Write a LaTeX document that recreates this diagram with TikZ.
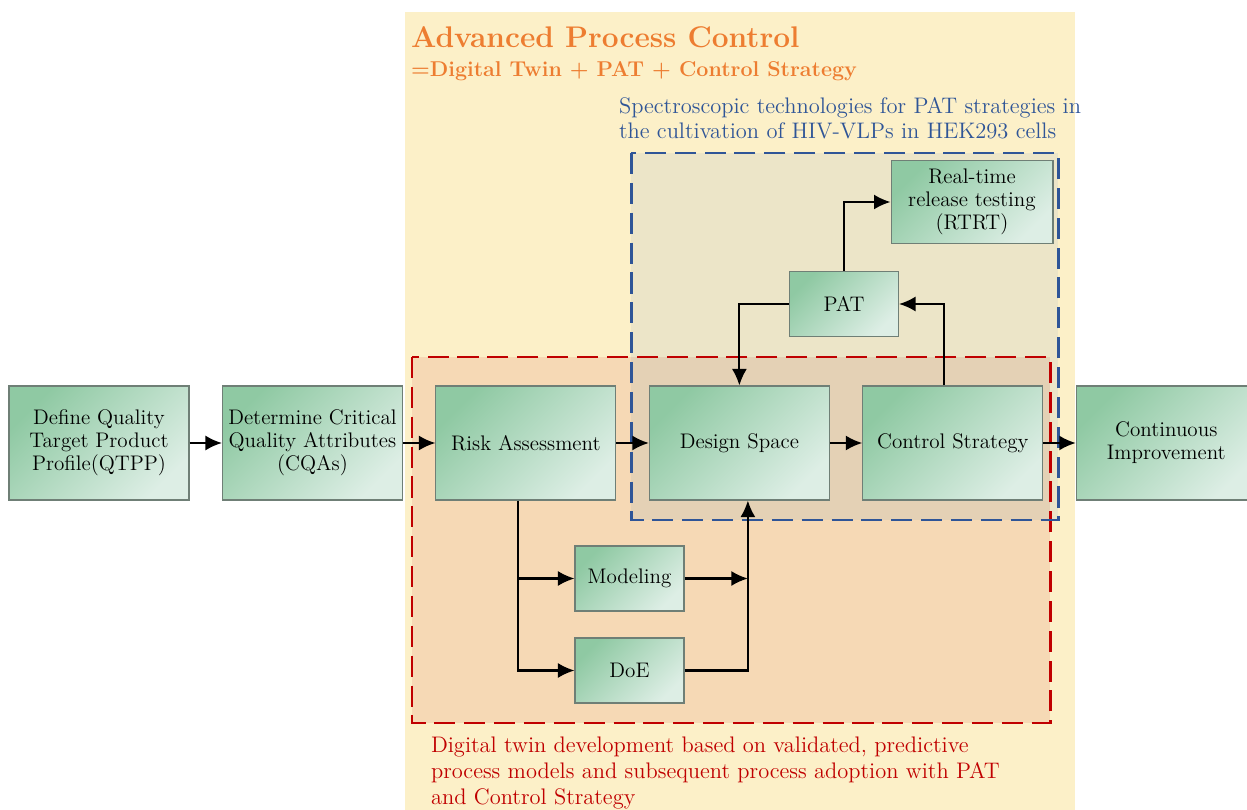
\documentclass[tikz,border=0pt]{standalone}
\usepackage{tikz}
\usetikzlibrary{arrows.meta,positioning}
\definecolor{apcyellow}{HTML}{FCF0C8}
\definecolor{dtpeach}{HTML}{F6D9B5}
\definecolor{patbeige}{HTML}{ECE5C8}
\definecolor{bothtan}{HTML}{E4D1B5}
\definecolor{apcorange}{HTML}{ED7D31}
\definecolor{dtred}{HTML}{C00000}
\definecolor{patblue}{HTML}{2F5597}
\definecolor{boxdark}{HTML}{8FC9A3}
\definecolor{boxlight}{HTML}{DDEEE5}
\definecolor{boxline}{HTML}{6F7F76}

\begin{document}
\begin{tikzpicture}[x=0.02cm,y=-0.02cm,line width=1.2pt,
    >={Latex[length=3.3mm,width=3mm]},
    node distance=4.27cm,on grid,
    box/.style={draw=boxline,line width=0.6pt,top color=boxdark,bottom color=boxlight,
        shading angle=45,minimum width=3.6cm,minimum height=2.28cm,align=center,
        font=\fontsize{12}{13}\selectfont,inner sep=2pt},
    smallbox/.style={box,minimum width=2.18cm,minimum height=1.3cm},
    region/.style={line width=1.7pt,dash pattern=on 12pt off 5pt}]
    \useasboundingbox (0,0) rectangle (1247,810);

    % shaded areas behind the process
    \fill[apcyellow] (405,12) rectangle (1075,810);
    \fill[dtpeach] (412,357) rectangle (1050,723);
    \fill[patbeige] (631,153) rectangle (1058,520);
    \fill[bothtan] (631,357) rectangle (1050,520);
    \draw[region,dtred] (412,357) rectangle (1050,723);
    \draw[region,patblue] (631,153) rectangle (1058,520);

    \node[anchor=west,inner sep=0pt,text=apcorange,font=\fontsize{17}{20}\bfseries\selectfont] (apc) at (410,37)
        {Advanced Process Control};
    \node[anchor=west,inner sep=0pt,text=apcorange,font=\fontsize{12.2}{15}\bfseries\selectfont] (apceq) at (410,71)
        {=Digital Twin + PAT + Control Strategy};
    \node[anchor=north west,inner sep=0pt,text=patblue,align=left,font=\fontsize{12.8}{14.7}\selectfont] (pattxt) at (618,96)
        {Spectroscopic technologies for PAT strategies in\\the cultivation of HIV-VLPs in HEK293 cells};
    \node[anchor=north west,inner sep=0pt,text=dtred,align=left,font=\fontsize{12.8}{14.7}\selectfont] (dttxt) at (430,736)
        {Digital twin development based on validated, predictive\\process models and subsequent process adoption with PAT\\and Control Strategy};

    % main row
    \node[box] (qtpp) at (99,443) {Define Quality\\Target Product\\Profile(QTPP)};
    \node[box,right=of qtpp] (cqa) {Determine Critical\\Quality Attributes\\(CQAs)};
    \node[box,right=of cqa] (risk) {Risk Assessment};
    \node[box,right=of risk] (design) {Design Space};
    \node[box,right=of design] (control) {Control Strategy};
    \node[box,right=of control] (ci) {Continuous\\Improvement};

    % side boxes
    \node[smallbox] (pat) at (844,304) {PAT};
    \node[box,minimum width=3.24cm,minimum height=1.66cm] (rtrt) at (972,202)
        {Real-time\\release testing\\(RTRT)};
    \node[smallbox] (model) at (629.5,578.5) {Modeling};
    \node[smallbox] (doe) at (629.5,670.5) {DoE};

    \coordinate (riskout) at ([xshift=-0.16cm]risk.south);
    \coordinate (dsin) at ([xshift=0.17cm]design.south);
    \coordinate (csout) at ([xshift=-0.18cm]control.north);

    \draw[->] (qtpp) -- (cqa);
    \draw[->] (cqa) -- (risk);
    \draw[->] (risk) -- (design);
    \draw[->] (design) -- (control);
    \draw[->] (control) -- (ci);
    \draw[->] (pat.west) -| (design.north);
    \draw[->] (csout) |- (pat.east);
    \draw[->] (pat.north) |- (rtrt.west);
    \draw[->] (riskout) |- (doe.west);
    \draw[->] (riskout |- model.west) -- (model.west);
    \draw[->] (doe.east) -| (dsin);
    \draw[->] (model.east) -- (model.east -| dsin);
\end{tikzpicture}
\end{document}
